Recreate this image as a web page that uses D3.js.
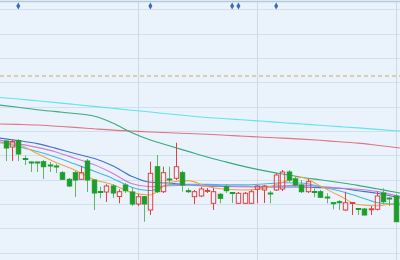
<!DOCTYPE html>
<html>
<head>
<meta charset="utf-8">
<script src="https://cdn.jsdelivr.net/npm/d3@7"></script>
<style>
  body { margin: 0; padding: 0; background: #fff; }
</style>
</head>
<body>
<div id="kline"></div>
<script>
// daily candles, index 0..62
var openP  = [8.59,8.53,8.595,8.415,8.38,8.38,8.383,8.35,8.34,8.273,8.207,8.273,8.207,8.39,8.20,8.085,8.08,8.14,8.035,8.15,8.08,7.96,8.033,7.90,8.333,8.083,8.21,8.217,8.273,8.093,8.033,8.04,8.09,7.967,8.057,8.133,8.075,7.967,7.967,7.967,8.107,8.10,8.07,8.10,8.11,8.28,8.21,8.15,8.083,8.085,8.083,8.03,7.973,7.983,7.90,7.97,7.915,7.91,7.907,7.907,8.07,8.02,8.04];
var highP  = [8.60,8.60,8.61,8.445,8.385,8.385,8.40,8.38,8.36,8.29,8.22,8.29,8.34,8.41,8.21,8.133,8.157,8.16,8.107,8.17,8.12,8.06,8.04,8.383,8.45,8.333,8.333,8.573,8.29,8.117,8.10,8.13,8.12,8.12,8.07,8.16,8.08,8.08,8.08,8.10,8.15,8.15,8.093,8.27,8.30,8.30,8.24,8.20,8.207,8.117,8.10,8.067,7.977,8.00,8.083,7.975,7.92,7.92,7.94,8.083,8.117,8.025,8.06];
var lowP   = [8.39,8.39,8.39,8.35,8.28,8.28,8.21,8.28,8.27,8.20,8.13,8.03,8.20,8.08,7.90,8.017,7.98,8.02,7.967,8.07,7.94,7.94,7.783,7.85,8.07,8.07,8.15,8.20,8.083,8.07,7.96,8.03,8.07,7.90,7.967,8.07,7.97,7.96,7.96,7.96,7.967,7.97,7.967,8.09,8.09,8.18,8.13,8.07,8.07,8.027,8.02,7.967,7.907,7.90,7.89,7.85,7.85,7.845,7.85,7.895,7.96,7.94,7.78];
var closeP = [8.52,8.585,8.46,8.41,8.372,8.372,8.333,8.342,8.332,8.207,8.14,8.20,8.273,8.20,8.07,8.08,8.14,8.07,8.083,8.093,7.96,8.033,7.96,8.267,8.083,8.273,8.204,8.333,8.15,8.087,8.083,8.11,8.096,8.083,8.017,8.093,8.068,8.067,8.067,8.083,8.14,8.14,8.064,8.25,8.28,8.20,8.15,8.083,8.183,8.08,8.027,8.024,7.967,7.977,7.973,7.975,7.908,7.85,7.912,8.04,7.983,8.014,7.783];

// moving averages, read at these candle indexes
var maIdx  = [-1,2,5,8,11,14,17,20,23,26,29,32,35,38,41,44,47,50,53,56,59,62,63];
var ma5    = [8.57,8.552,8.465,8.376,8.30,8.206,8.153,8.075,8.05,8.175,8.194,8.135,8.107,8.10,8.115,8.177,8.225,8.14,8.044,7.955,7.942,7.966,7.97];
var ma10   = [8.583,8.535,8.485,8.428,8.359,8.29,8.216,8.128,8.095,8.152,8.157,8.156,8.152,8.151,8.16,8.172,8.17,8.133,8.093,8.036,7.975,7.954,7.948];
var ma20   = [8.60,8.563,8.526,8.48,8.417,8.354,8.267,8.165,8.133,8.142,8.147,8.145,8.14,8.136,8.135,8.142,8.149,8.135,8.12,8.108,8.086,8.044,8.03];
var ma30   = [8.62,8.594,8.564,8.516,8.465,8.417,8.343,8.238,8.177,8.17,8.152,8.139,8.136,8.133,8.13,8.13,8.13,8.124,8.117,8.093,8.067,8.03,8.015];
var ma60   = [8.95,8.927,8.903,8.884,8.865,8.84,8.77,8.675,8.599,8.542,8.486,8.43,8.381,8.334,8.294,8.26,8.228,8.202,8.175,8.146,8.112,8.078,8.066];
var ma120  = [8.76,8.756,8.75,8.738,8.726,8.712,8.699,8.69,8.68,8.672,8.665,8.657,8.647,8.638,8.628,8.619,8.609,8.597,8.582,8.569,8.548,8.525,8.518];
var ma250  = [9.026,9.01,8.992,8.974,8.955,8.936,8.917,8.898,8.88,8.86,8.842,8.825,8.813,8.80,8.787,8.773,8.76,8.747,8.734,8.721,8.706,8.693,8.689];

var gridPrices = [9.907,9.6635,9.42,9.1765,8.933,8.6895,8.446,8.2025,7.959,7.7155,7.472];
var monthStart = [21, 40, 62];     // first trading day of each month
var eventIdx = [2, 23, 36, 37, 43]; // news markers at the top
var costPrice = 9.24;              // dashed reference line

var width = 400, height = 260;

var svg = d3.select("#kline")
    .append("svg")
    .attr("width", width)
    .attr("height", height);

svg.append("rect")
    .attr("width", width)
    .attr("height", height)
    .attr("fill", "#eaf3fc");

var x = d3.scaleLinear().domain([0, 62]).range([5.7, 395.7]);
var y = d3.scaleLinear().domain([7.4, 10]).range([260, 0]);

var crisp = function (v) { return Math.round(v) + 0.5; };

// grid
svg.append("g").selectAll("line")
    .data(gridPrices)
    .enter().append("line")
    .attr("x1", 0).attr("x2", width)
    .attr("y1", function (d) { return crisp(y(d)); })
    .attr("y2", function (d) { return crisp(y(d)); })
    .attr("stroke", "#d1e0ef")
    .attr("stroke-width", 1);

svg.append("g").selectAll("line")
    .data(monthStart)
    .enter().append("line")
    .attr("x1", function (d) { return crisp(x(d)); })
    .attr("x2", function (d) { return crisp(x(d)); })
    .attr("y1", 2).attr("y2", height)
    .attr("stroke", "#cdd9e7")
    .attr("stroke-width", 1);

// top border
svg.append("line")
    .attr("x1", 0).attr("x2", width)
    .attr("y1", 1.5).attr("y2", 1.5)
    .attr("stroke", "#b4c9e0")
    .attr("stroke-width", 1.5);

// dashed cost line
svg.append("line")
    .attr("x1", 0).attr("x2", width)
    .attr("y1", y(costPrice)).attr("y2", y(costPrice))
    .attr("stroke", "#d6c196")
    .attr("stroke-width", 1.5)
    .attr("stroke-dasharray", "4,3");

// event diamonds
svg.append("g").selectAll("path")
    .data(eventIdx)
    .enter().append("path")
    .attr("d", d3.symbol().type(d3.symbolDiamond).size(14))
    .attr("transform", function (d) { return "translate(" + x(d) + ",6)"; })
    .attr("fill", "#3c6cb2");

// moving average lines
var maLines = [
    { v: ma250, c: "#5ee4ea" },
    { v: ma120, c: "#e07482" },
    { v: ma60,  c: "#38aa7a" },
    { v: ma30,  c: "#4472cc" },
    { v: ma20,  c: "#d27ad6" },
    { v: ma10,  c: "#44b6de" },
    { v: ma5,   c: "#f2a444" }
];

var line = d3.line()
    .x(function (d, i) { return x(maIdx[i]); })
    .y(function (d) { return y(d); })
    .curve(d3.curveMonotoneX);

svg.append("g").selectAll("path")
    .data(maLines)
    .enter().append("path")
    .attr("d", function (d) { return line(d.v); })
    .attr("fill", "none")
    .attr("stroke", function (d) { return d.c; })
    .attr("stroke-width", 1.1);

// candles
var candles = d3.range(openP.length);
var bodyW = 4.4;
var up = function (i) { return closeP[i] >= openP[i]; };

var cg = svg.append("g");

cg.selectAll(".wick")
    .data(candles)
    .enter().append("line")
    .attr("class", "wick")
    .attr("x1", function (i) { return crisp(x(i)); })
    .attr("x2", function (i) { return crisp(x(i)); })
    .attr("y1", function (i) { return y(highP[i]); })
    .attr("y2", function (i) { return up(i) ? y(closeP[i]) : y(lowP[i]); })
    .attr("stroke", function (i) { return up(i) ? "#e2403e" : "#66b266"; })
    .attr("stroke-width", 1);

// lower wick of hollow candles (body stays open)
cg.selectAll(".wick2")
    .data(candles.filter(up))
    .enter().append("line")
    .attr("class", "wick2")
    .attr("x1", function (i) { return crisp(x(i)); })
    .attr("x2", function (i) { return crisp(x(i)); })
    .attr("y1", function (i) { return y(openP[i]); })
    .attr("y2", function (i) { return y(lowP[i]); })
    .attr("stroke", "#e2403e")
    .attr("stroke-width", 1);

cg.selectAll(".body")
    .data(candles)
    .enter().append("rect")
    .attr("class", "body")
    .attr("x", function (i) { return crisp(x(i)) - bodyW / 2; })
    .attr("width", bodyW)
    .attr("y", function (i) { return y(Math.max(openP[i], closeP[i])); })
    .attr("height", function (i) { return Math.max(1, Math.abs(y(openP[i]) - y(closeP[i]))); })
    .attr("fill", function (i) { return up(i) ? "none" : "#1d9e2a"; })
    .attr("stroke", function (i) { return up(i) ? "#e2403e" : "#1d9e2a"; })
    .attr("stroke-width", 1);
</script>
</body>
</html>
